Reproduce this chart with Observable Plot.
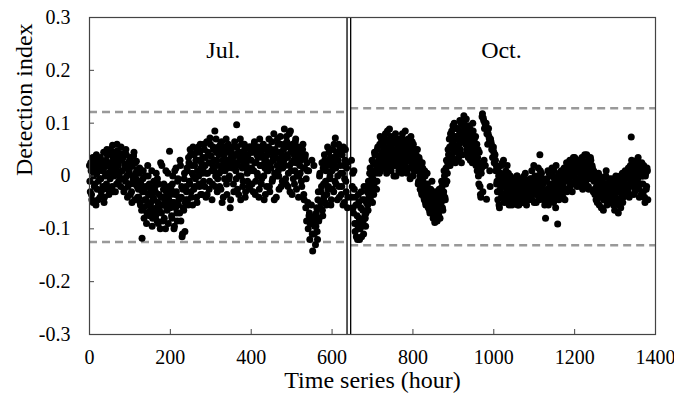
<!DOCTYPE html>
<html><head><meta charset="utf-8">
<script src="https://cdn.jsdelivr.net/npm/d3@7"></script>
<script src="https://cdn.jsdelivr.net/npm/@observablehq/plot@0.6"></script>
<style>body{margin:0;background:#fff} svg text{font-family:'Liberation Serif','Times New Roman',serif !important}</style>
</head><body><div id="chart"></div>
<script>
// Detection index in thousandths, hourly readings split into even and odd hours
const julStartHour = 0;
const octStartHour = 648;
const stepHours = 2;
const julEven = [
20,-30,10,-45,35,0,-20,25,-55,5,15,-10,30,-40,-5,22,-25,12,-50,28,
18,-15,40,5,-35,25,50,10,-20,35,0,45,-30,15,60,28,-10,38,8,55,
30,-5,42,-25,15,50,0,-40,25,10,-15,35,-30,20,-8,45,-45,5,28,-20,
-10,-40,15,-55,-25,-118,-5,-60,-30,0,-45,-70,20,-35,-15,-65,-50,10,-80,-28,
-45,-20,-75,-60,-5,-90,-35,-55,25,-70,-40,-85,-15,-50,-100,-30,-65,5,-45,47,
-60,-25,-80,0,-50,-95,-35,15,-70,-10,-55,-40,30,-85,-20,-110,-60,-5,-105,-45,
-30,10,-55,25,-15,40,-40,5,55,-25,20,-5,45,-50,30,0,-20,60,15,-35,
35,-10,50,20,-40,65,5,40,-25,72,25,10,-15,55,30,85,0,45,-30,20,
40,-20,60,10,-50,30,50,-5,25,70,-35,15,45,0,-60,35,55,20,-15,40,
25,10,97,-25,45,0,30,-45,60,15,-10,35,50,-30,20,5,40,-20,55,10,
30,-15,50,10,65,-35,25,40,0,55,-25,20,45,-5,35,60,-45,15,30,-20,
40,10,70,-30,25,50,-10,35,80,5,45,-40,20,60,0,30,75,-20,40,15,
50,89,20,-15,65,35,5,80,-30,45,25,60,-5,40,10,70,-25,30,55,0,
20,45,-10,35,60,-35,15,40,-5,25,-50,10,-70,-90,-80,30,-142,-85,-110,-75,
-95,-60,-120,-30,-80,5,-50,-20,-65,15,-40,30,-10,-55,20,-25,45,-5,35,-45,
10,50,-30,25,72,-15,40,0,60,-40,20,45,-20,5,55,-50,30,-10,15,-60
];
const julOdd = [
-10,25,-35,15,-50,30,-15,5,40,-25,-45,20,-5,35,-30,10,-20,45,-40,0,
30,50,-25,20,45,-5,15,40,58,-30,25,5,35,-15,48,20,0,30,-20,42,
10,35,-30,22,-10,40,15,-20,5,30,-35,18,-50,0,38,-15,25,-5,12,-40,
-25,5,-50,-15,-65,-30,10,-80,-45,-20,-90,-55,0,-35,-75,-25,-60,-95,-40,-10,
-70,-30,5,-85,-50,-15,-65,-100,-40,20,-55,-25,-80,-45,10,-60,-35,-90,-20,-50,
-35,-75,-15,-50,-100,10,-60,-30,-85,-5,-45,-70,20,-40,-115,-25,-65,5,-50,-20,
15,-45,35,-10,50,-30,20,-55,0,40,-20,30,-40,10,55,-15,45,-35,25,5,
15,60,-20,35,5,-35,45,25,-10,60,38,-45,20,50,10,-20,70,30,-5,55,
5,45,-25,65,20,-40,40,10,55,-15,30,60,-5,25,-45,50,15,35,-30,65,
40,-5,55,20,-35,35,70,0,45,-20,25,60,-40,15,40,-10,30,55,-25,45,
15,45,-30,60,25,-10,50,5,35,-40,70,20,-15,40,55,0,25,-35,50,10,
25,55,-20,45,15,65,-5,30,-45,50,35,0,70,10,-25,45,60,20,-10,35,
30,60,-5,75,40,-20,55,20,85,10,-35,50,30,-15,65,25,0,45,-40,35,
5,30,-20,50,15,-45,35,-60,-85,10,-100,-75,-120,-90,-55,-110,-80,20,-95,-130,
-70,-105,-45,-85,0,-60,-30,25,-75,-15,40,-50,10,-35,55,-20,30,0,-55,20,
-25,35,60,-10,15,45,-45,30,-20,55,5,-35,40,-55,20,-5,50,-30,25,-40
];
const octEven = [
30,-20,-60,10,-90,-40,-115,-75,-100,-50,-120,-85,-30,-95,-65,-110,-45,-80,-70,-20,
-55,-10,-40,15,-30,0,-50,25,-15,40,5,-25,50,20,35,60,10,70,45,25,
55,30,80,15,45,65,25,89,40,10,60,35,75,20,50,0,70,30,55,40,
65,20,45,80,10,35,60,25,50,5,70,40,15,55,30,65,0,45,20,35,
40,10,25,-10,30,-25,5,-35,15,-20,-45,0,-55,-30,-15,-60,-40,-70,-25,-50,
-65,-80,-45,-88,-70,-55,-85,-35,-75,-60,-40,-50,-20,-65,-30,0,-45,15,-10,25,
40,70,20,55,85,35,65,100,50,30,75,90,45,60,105,80,25,70,95,114,
85,60,108,45,75,95,55,30,80,65,100,40,70,50,20,60,35,0,45,-20,
-40,15,118,110,30,100,95,-44,85,80,75,10,70,60,55,50,45,40,30,20,
-10,-45,0,-60,-25,20,-35,-5,30,-50,-15,10,-40,-20,5,-55,-30,-10,-45,-25,
-35,-5,-50,-20,-40,0,-30,-55,-15,-45,-25,-10,-50,-35,-20,5,-40,-30,-15,-45,
-25,-5,-40,10,-30,-15,-50,0,-20,-35,-10,15,-45,40,-25,5,-40,-15,-30,-55,
-80,-10,-30,10,-45,-20,0,-35,15,-25,-50,-5,-15,20,-40,-91,-20,5,-30,-10,
-35,0,-20,15,-45,-10,25,-25,5,-5,30,-15,10,-30,20,0,35,-10,15,-20,
10,30,-15,20,0,35,-25,15,5,25,-10,40,0,-20,20,10,30,-5,15,-30,
-10,-35,5,-20,-50,-15,-40,0,-30,-60,-25,-5,-45,-20,-35,10,-55,-15,-30,-45,
-20,-40,-5,-30,-55,-15,-35,0,-25,-45,-70,-10,-30,-60,-20,5,-40,-15,-25,-5,
-20,10,-30,0,-15,20,74,-10,25,-35,5,15,-25,30,-5,20,-40,10,-15,25,
0,-30,15,-50,5,-20,10
];
const octOdd = [
-40,5,-70,-25,-105,-55,-90,-120,-35,-80,-100,-60,-115,-45,-85,-20,-75,-95,-50,-30,
-65,-35,5,-45,-20,30,-5,-35,45,10,20,-10,55,30,5,75,40,15,60,35,
20,70,45,5,85,35,55,15,75,50,25,65,0,40,80,20,60,45,10,70,
30,55,5,70,40,20,85,45,15,60,30,50,-5,75,25,40,60,10,50,25,
15,50,-15,35,0,20,-30,25,-10,-40,10,-50,-20,5,-45,-25,-65,-35,-55,-10,
-40,-75,-55,-30,-85,-60,-45,-70,-25,-80,-50,-10,-60,-35,10,-40,-15,30,5,50,
20,55,80,30,60,95,45,75,25,90,55,70,35,85,50,100,65,40,80,105,
70,95,50,80,35,65,90,45,70,25,85,55,30,75,40,10,50,-15,25,-35,
5,112,-30,105,90,20,100,80,60,90,70,-20,65,50,35,55,25,40,10,-15,
-30,15,-55,-15,5,-40,25,-20,-5,-45,0,-30,20,-50,-10,-35,0,-20,-55,-5,
-20,-45,-10,-30,0,-55,-25,-40,-5,-30,-50,-15,-35,0,-45,-20,-55,-10,-30,-40,
-15,-35,-5,-45,-20,20,-30,-10,-50,-25,0,-40,-15,10,-35,-20,-5,-45,-30,-10,
-40,-5,-25,-55,5,-30,-15,-45,0,-20,10,-35,-60,-10,-25,0,-45,-15,-30,10,
-15,-40,5,-25,10,-5,-30,20,-10,15,-20,0,25,-15,35,5,-10,25,-5,30,
-5,20,5,-20,30,10,-10,25,40,-15,15,0,30,-25,10,35,-5,20,0,10,
-25,0,-45,-10,-30,5,-55,-20,-40,-10,-35,-65,-15,-45,0,-30,-50,-20,-5,-40,
-35,-10,-50,-20,-40,-65,-25,-5,-45,-15,-55,-30,0,-40,-20,-50,-10,-35,10,-25,
0,-25,15,-40,5,-10,30,-20,10,-5,-30,20,0,-15,35,-25,5,20,-35,0,
-15,20,-40,0,-25,15,-45
];
// control limits per period
const periodNames = ["Jul.", "Oct."];
const periodFrom = [0, 646];
const periodTo = [637, 1400];
const upperLimits = [0.121, 0.128];
const lowerLimits = [-0.125, -0.131];
const breakHours = [637, 646];
const labelHours = [331, 1019];
const labelValues = [0.237, 0.237];
const xTicks = [0, 200, 400, 600, 800, 1000, 1200, 1400];
const yTicks = [-0.3, -0.2, -0.1, 0, 0.1, 0.2, 0.3];
const xTitle = "Time series (hour)";
const yTitle = "Detection index";

const toPoints = (arr, start) => arr.map((v, i) => ({hour: start + i * stepHours, value: v / 1000}));
const points = [
  ...toPoints(julEven, julStartHour), ...toPoints(julOdd, julStartHour + 1),
  ...toPoints(octEven, octStartHour), ...toPoints(octOdd, octStartHour + 1)
];
const limits = periodNames.map((p, i) => ({period: p, from: periodFrom[i], to: periodTo[i], upper: upperLimits[i], lower: lowerLimits[i]}));
const labels = periodNames.map((p, i) => ({name: p, hour: labelHours[i], value: labelValues[i]}));

const serif = "'Liberation Serif', 'Times New Roman', serif";
const chart = Plot.plot({
  width: 674, height: 397,
  marginLeft: 89, marginRight: 19, marginTop: 17, marginBottom: 63,
  style: {fontFamily: serif, fontSize: "20px", color: "#000", background: "#fff"},
  x: {domain: [0, 1400], label: null},
  y: {domain: [-0.3, 0.3], label: null},
  marks: [
    Plot.ruleY(limits, {y: "upper", x1: "from", x2: "to", stroke: "#999", strokeWidth: 2.5, strokeDasharray: "8,5"}),
    Plot.ruleY(limits, {y: "lower", x1: "from", x2: "to", stroke: "#999", strokeWidth: 2.5, strokeDasharray: "8,5"}),
    Plot.dot(points, {x: "hour", y: "value", r: 3.5, fill: "#000", stroke: "none"}),
    Plot.ruleX(breakHours, {stroke: "#000", strokeWidth: 1.3}),
    Plot.frame({stroke: "#444", strokeWidth: 1.2}),
    Plot.axisY(yTicks, {anchor: "left", tickSize: 5, dx: 5, tickFormat: () => "", stroke: "#444", label: null}),
    Plot.axisY(yTicks, {anchor: "left", tickSize: 0, tickPadding: 19, tickFormat: d => d === 0 ? "0" : d.toFixed(1), fill: "#000", fontSize: 20, fontFamily: serif, fontVariant: "normal", label: null}),
    Plot.axisX(xTicks, {anchor: "bottom", tickSize: 5, dy: -5, tickFormat: () => "", stroke: "#444", label: null}),
    Plot.axisX(xTicks, {anchor: "bottom", tickSize: 0, tickPadding: 15, tickFormat: d => String(d), fill: "#000", fontSize: 20, fontFamily: serif, fontVariant: "normal", label: null}),
    Plot.text([yTitle], {text: d => d, frameAnchor: "left", dx: -65, rotate: -90, fontSize: 24, fontFamily: serif, fill: "#000"}),
    Plot.text([xTitle], {text: d => d, frameAnchor: "bottom", dy: 53, fontSize: 24, fontFamily: serif, fill: "#000"}),
    Plot.text(labels, {x: "hour", y: "value", text: "name", fontSize: 24, fontFamily: serif, fill: "#000"})
  ]
});
document.getElementById("chart").appendChild(chart);
</script>
</body></html>
